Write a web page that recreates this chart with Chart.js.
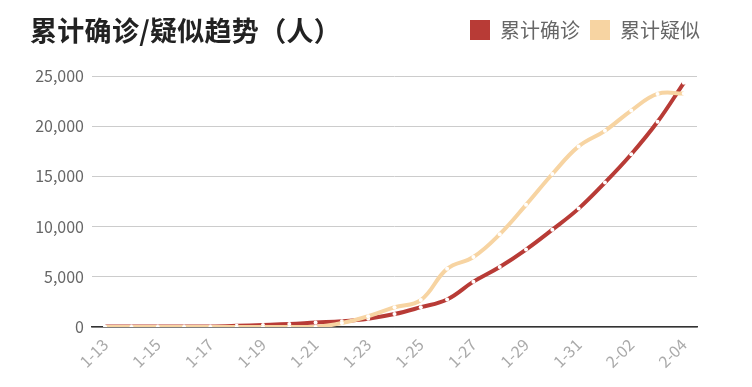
<!DOCTYPE html>
<html><head><meta charset="utf-8">
<script src="https://cdn.jsdelivr.net/npm/chart.js@4/dist/chart.umd.min.js"></script>
<style>
html,body{margin:0;padding:0;background:#fff;}
#wrap{position:relative;width:752px;height:387px;}
#title{position:absolute;left:30px;top:11px;font-family:"Noto Sans CJK SC",sans-serif;font-weight:bold;font-size:27px;color:#222;line-height:38px;letter-spacing:0.3px;}
canvas{position:absolute;left:0;top:0;}
</style></head>
<body>
<div id="wrap">
<canvas id="c" width="752" height="387"></canvas>
<div id="title">累计确诊/疑似趋势（人）</div>
</div>
<script>
const categories = ["1-13","1-14","1-15","1-16","1-17","1-18","1-19","1-20","1-21","1-22","1-23","1-24","1-25","1-26","1-27","1-28","1-29","1-30","1-31","2-01","2-02","2-03","2-04"];
const confirmed = [41,41,41,45,62,121,198,291,440,571,830,1287,1975,2744,4515,5974,7711,9692,11791,14380,17205,20438,24324];
const suspected = [0,0,0,0,0,0,0,0,0,393,1072,1965,2684,5794,6973,9239,12167,15238,17988,19544,21558,23214,23260];
const seriesNames = ["累计确诊","累计疑似"];
const yTicks = [0,5000,10000,15000,20000,25000];

const font = '"Noto Sans CJK SC", sans-serif';
const legendSpace = {
  id:'legendSpace',
  beforeInit(chart){
    const fit = chart.legend.fit;
    chart.legend.fit = function(){ fit.bind(chart.legend)(); this.height += 26; };
  },
  afterLayout(chart){
    chart.legend.left += 13;
    chart.legend.right += 13;
  }
};
new Chart(document.getElementById('c'), {
  type:'line',
  data:{
    labels: categories,
    datasets:[
      {label:seriesNames[0], data:confirmed, borderColor:'#b83b36', backgroundColor:'#b83b36', borderWidth:4, tension:0.4,
       pointRadius:2, pointBackgroundColor:'#fff', pointBorderWidth:0, order:1},
      {label:seriesNames[1], data:suspected, borderColor:'#f7d4a2', backgroundColor:'#f7d4a2', borderWidth:4, tension:0.4,
       pointRadius:2, pointBackgroundColor:'#fff', pointBorderWidth:0, order:0}
    ]
  },
  options:{
    responsive:false, animation:false, devicePixelRatio:1,
    layout:{padding:{top:10,right:55,left:0,bottom:0}},
    plugins:{
      legend:{position:'top', align:'end',
        labels:{boxWidth:20, boxHeight:20, padding:10, color:'#666', font:{family:font,size:20},
          sort:(a,b)=>a.datasetIndex-b.datasetIndex,
          generateLabels(chart){
            return chart.data.datasets.map((d,i)=>({text:d.label, fillStyle:d.borderColor, strokeStyle:d.borderColor, lineWidth:0, datasetIndex:i, fontColor:'#666'}));
          }}},
      tooltip:{enabled:false}
    },
    scales:{
      x:{offset:true,
        grid:{display:false},
        border:{display:true,color:'#333',width:1.5},
        ticks:{autoSkip:false, maxRotation:45, minRotation:45, color:'#aaa', font:{family:font,size:16}, padding:0,
          callback:function(v,i){return i%2===0?categories[i]:'';}},
        afterFit(s){s.height=60;}
      },
      y:{min:0,max:25000,
        afterBuildTicks(s){s.ticks=yTicks.map(v=>({value:v}));},
        grid:{color:'#ccc',drawTicks:false,lineWidth:1},
        border:{display:false},
        ticks:{color:'#666',padding:8,font:{family:font,size:16},callback:v=>v.toLocaleString('en-US')},
        afterFit(s){s.width=92;}
      }
    }
  },
  plugins:[legendSpace]
});
</script>
</body></html>
